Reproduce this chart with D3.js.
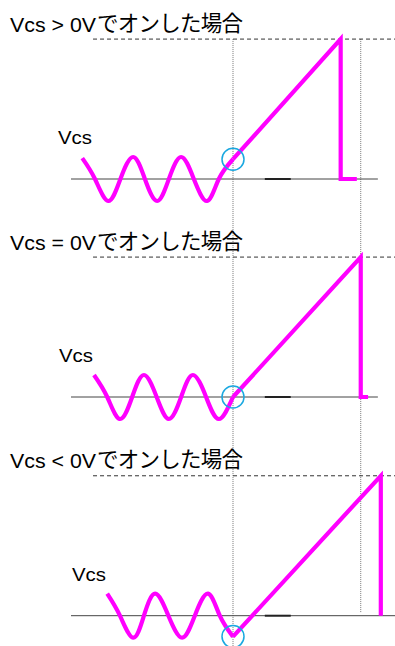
<!DOCTYPE html>
<html>
<head>
<meta charset="utf-8">
<script src="https://cdn.jsdelivr.net/npm/d3@7"></script>
<style>
  body { margin: 0; background: #fff; }
  svg { display: block; }
</style>
</head>
<body>
<div id="chart"></div>
<script>
// Set dimensions
const width = 395;
const height = 646;

// Titles of the three cases
const titles = ["Vcs > 0Vでオンした場合", "Vcs = 0Vでオンした場合", "Vcs < 0Vでオンした場合"];
const waveLabel = "Vcs";

// Gate oscillation before turn-on: [time (periods), Vcs (amplitude units)]
const wave1 = [[-3.08, 0.95], [-2.82, 0], [-2.55, -1], [-2.30, 0], [-2.04, 1], [-1.80, 0], [-1.55, -1],
  [-1.31, 0], [-1.06, 1], [-0.80, 0], [-0.53, -1], [-0.29, 0], [0, 0.9]];
const wave2 = [[-2.84, 1], [-2.57, 0], [-2.31, -1], [-2.06, 0], [-1.82, 1], [-1.56, 0], [-1.31, -1],
  [-1.06, 0], [-0.82, 1], [-0.55, 0], [-0.29, -1], [0, 0]];
const wave3 = [[-2.57, 1], [-2.31, 0], [-2.04, -1], [-1.82, 0], [-1.59, 1], [-1.32, 0], [-1.04, -1],
  [-0.78, 0], [-0.51, 1], [-0.27, 0], [0, -0.95]];

// Ramp after turn-on
const ramp1 = [[0, 0.9], [2.2, 6.36], [2.2, 0], [2.53, 0]];
const ramp2 = [[0, 0], [2.61, 6.36], [2.61, 0], [2.76, 0]];
const ramp3 = [[0, -0.95], [3.02, 6.36], [3.02, 0]];

const peakLevel = 6.36;       // dashed line level
const turnOn = 0;             // switch-on time
const refTime = 2.61;         // second dotted marker
const axisEnds = [2.96, 2.96, 3.31];

const panels = [
  { title: titles[0], wave: wave1, ramp: ramp1, axisY: 179, labelX: 58, axisEnd: axisEnds[0] },
  { title: titles[1], wave: wave2, ramp: ramp2, axisY: 397, labelX: 59, axisEnd: axisEnds[1] },
  { title: titles[2], wave: wave3, ramp: ramp3, axisY: 615.7, labelX: 72, axisEnd: axisEnds[2] }
];

const latinFont = "'Liberation Sans', Arial, sans-serif";
const cjkFont = "'Noto Sans CJK JP', sans-serif";

const svg = d3.select("#chart")
  .append("svg")
  .attr("width", width)
  .attr("height", height)
  .attr("viewBox", [0, 0, width, height]);

const x = d3.scaleLinear().domain([-3.31, 3.31]).range([71, 395]);

const yFor = p => d3.scaleLinear().domain([0, 1]).range([p.axisY, p.axisY - 22]);

// dotted vertical markers spanning all panels
const yTop = yFor(panels[0]);
const yBot = yFor(panels[2]);
svg.append("line")
  .attr("x1", x(turnOn)).attr("x2", x(turnOn))
  .attr("y1", yTop(peakLevel)).attr("y2", height)
  .attr("stroke", "#777").attr("stroke-width", 1).attr("stroke-dasharray", "1,1");
svg.append("line")
  .attr("x1", x(refTime)).attr("x2", x(refTime))
  .attr("y1", yTop(peakLevel)).attr("y2", yBot(0) - 3)
  .attr("stroke", "#777").attr("stroke-width", 1).attr("stroke-dasharray", "1,1");

panels.forEach(p => {
  const y = yFor(p);
  const g = svg.append("g");

  // split title into latin part and japanese part
  const cut = p.title.search(/[\u3040-\u9fff]/);
  g.append("text")
    .attr("x", 10)
    .attr("y", p.axisY - 147.5)
    .attr("font-family", latinFont)
    .attr("font-size", 20.5)
    .attr("textLength", 86)
    .attr("lengthAdjust", "spacingAndGlyphs")
    .attr("fill", "#000")
    .text(p.title.slice(0, cut));
  g.append("text")
    .attr("x", 97)
    .attr("y", p.axisY - 148.5)
    .attr("font-family", cjkFont)
    .attr("font-size", 21.5)
    .attr("textLength", 146)
    .attr("lengthAdjust", "spacing")
    .attr("fill", "#000")
    .text(p.title.slice(cut));

  g.append("text")
    .attr("x", p.labelX)
    .attr("y", p.axisY - 35)
    .attr("font-family", latinFont)
    .attr("font-size", 18)
    .attr("textLength", 34)
    .attr("lengthAdjust", "spacingAndGlyphs")
    .attr("fill", "#000")
    .text(waveLabel);

  // dashed peak level
  g.append("line")
    .attr("x1", x(-2.86)).attr("x2", x(3.31))
    .attr("y1", y(peakLevel)).attr("y2", y(peakLevel))
    .attr("stroke", "#333").attr("stroke-width", 1).attr("stroke-dasharray", "4,3");

  // zero axis
  g.append("line")
    .attr("x1", x(-3.31)).attr("x2", x(p.axisEnd))
    .attr("y1", y(0)).attr("y2", y(0))
    .attr("stroke", "#444").attr("stroke-width", 1);
  g.append("line")
    .attr("x1", x(0.65)).attr("x2", x(1.18))
    .attr("y1", y(0)).attr("y2", y(0))
    .attr("stroke", "#222").attr("stroke-width", 2);

  g.append("path")
    .datum(p.wave)
    .attr("d", d3.line().x(d => x(d[0])).y(d => y(d[1])).curve(d3.curveNatural))
    .attr("fill", "none")
    .attr("stroke", "#ff00ff")
    .attr("stroke-width", 4.2);

  g.append("path")
    .datum(p.ramp)
    .attr("d", d3.line().x(d => x(d[0])).y(d => y(d[1])))
    .attr("fill", "none")
    .attr("stroke", "#ff00ff")
    .attr("stroke-width", 4.2);

  g.append("circle")
    .attr("cx", x(p.ramp[0][0]))
    .attr("cy", y(p.ramp[0][1]))
    .attr("r", 11)
    .attr("fill", "none")
    .attr("stroke", "#1aa8e0")
    .attr("stroke-width", 1.5);
});
</script>
</body>
</html>
